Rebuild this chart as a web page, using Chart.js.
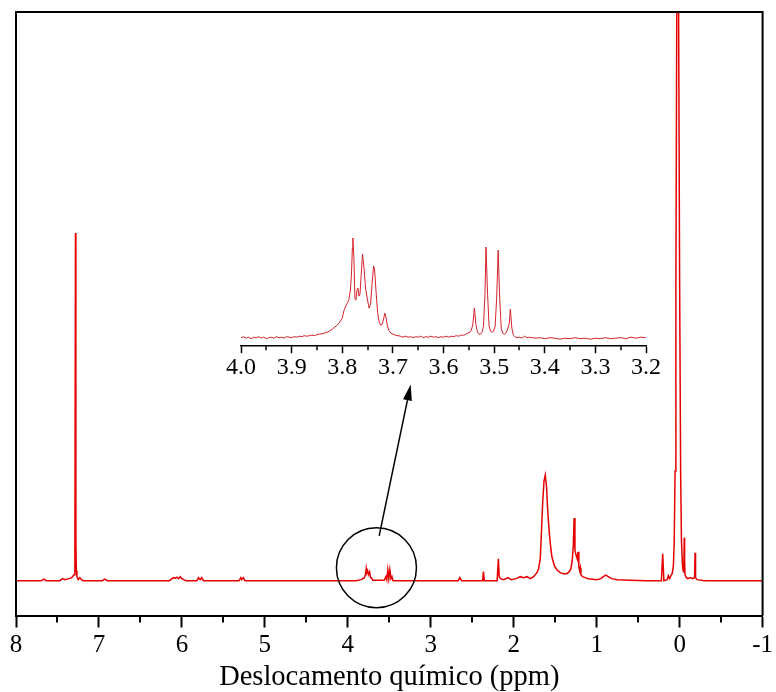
<!DOCTYPE html>
<html>
<head>
<meta charset="utf-8">
<script src="https://cdn.jsdelivr.net/npm/chart.js@4/dist/chart.umd.min.js"></script>
<style>
  html, body { margin: 0; padding: 0; background: #fff; }
  #wrap { position: relative; width: 776px; height: 692px; }
  #main { position: absolute; left: 0; top: 0; }
  #inset { position: absolute; left: 220px; top: 215px; }
</style>
</head>
<body>
<div id="wrap">
  <canvas id="main" width="776" height="692"></canvas>
  <canvas id="inset" width="450" height="167"></canvas>
</div>
<script>
/* ── Full spectrum: chemical shift (ppm) / intensity (a.u.) ───────── */
const shifts = [
  8.00, 7.70, 7.66, 7.64, 7.62, 7.47, 7.44, 7.41, 7.36, 7.33,
  7.30, 7.29, 7.283, 7.278, 7.273, 7.265, 7.25, 7.23, 7.21, 7.19,
  7.15, 6.96, 6.93, 6.90, 6.15, 6.12, 6.10, 6.08, 6.06, 6.04,
  6.02, 6.00, 5.98, 5.95, 5.82, 5.80, 5.78, 5.76, 5.74, 5.31,
  5.29, 5.28, 5.26, 5.24, 3.90, 3.84, 3.80, 3.785, 3.778, 3.772,
  3.762, 3.752, 3.738, 3.725, 3.715, 3.70, 3.56, 3.54, 3.53, 3.518,
  3.506, 3.493, 3.48, 3.468, 3.455, 2.67, 2.65, 2.63, 2.375, 2.365,
  2.355, 2.20, 2.185, 2.175, 2.16, 2.12, 2.07, 2.03, 1.97, 1.92,
  1.88, 1.84, 1.80, 1.76, 1.72, 1.70, 1.68, 1.665, 1.65, 1.635,
  1.62, 1.605, 1.59, 1.575, 1.56, 1.54, 1.51, 1.48, 1.44, 1.40,
  1.36, 1.33, 1.31, 1.295, 1.282, 1.272, 1.262, 1.25, 1.235, 1.225,
  1.215, 1.205, 1.197, 1.19, 1.17, 1.14, 1.10, 1.05, 1.00, 0.95,
  0.92, 0.89, 0.86, 0.82, 0.75, 0.60, 0.40, 0.22, 0.204, 0.19,
  0.15, 0.136, 0.12, 0.10, 0.09, 0.075, 0.065, 0.055, 0.045, 0.035,
  0.022, 0.012, 0.0, -0.012, -0.022, -0.035, -0.045, -0.052, -0.056, -0.06,
  -0.065, -0.08, -0.10, -0.13, -0.16, -0.18, -0.186, -0.192, -0.21, -0.30,
  -1.00
];
const intensity = [
  0, 0, 1.5, 0, 0, 0, 2, 1, 2, 3,
  6, 25, 349, 40, 10, 4, 1, 3, 1, 0,
  0, 0, 1.5, 0, 0, 2, 3, 2.5, 3.5, 2,
  4, 2, 1, 0, 0, 3, 1, 3, 0, 0,
  3, 1, 3, 0, 0, 1, 3, 7, 12, 8,
  10, 6, 9, 3, 3, 0.5, 0.5, 4, 1, 11,
  2, 11, 2, 4, 0, 0, 3, 0, 0, 9,
  0, 0, 22, 4, 2, 1, 3, 1, 2, 4,
  3, 4, 2, 4, 8, 12, 22, 50, 80, 100,
  106, 95, 70, 52, 38, 24, 15, 11, 8, 7,
  7, 9, 12, 20, 35, 63, 30, 26, 22, 29,
  14, 10, 13, 6, 4, 3, 2, 1.5, 1, 2,
  4, 5.5, 4, 2, 1, 0.5, 0, 0, 27, 0,
  1, 5, 2, 6, 7, 15, 40, 110, 300, 560,
  2500, 560, 300, 110, 40, 14, 9, 20, 43, 20,
  6, 3, 2, 3, 2, 3, 28, 3, 1, 0,
  0
];

/* ── Inset: 4.0 – 3.2 ppm expansion ───────────────────────────────── */
const insetShifts = [
  4.000, 3.995, 3.990, 3.985, 3.980, 3.975, 3.970, 3.965, 3.960, 3.955,
  3.950, 3.945, 3.940, 3.935, 3.930, 3.925, 3.920, 3.915, 3.910, 3.905,
  3.900, 3.895, 3.890, 3.885, 3.880, 3.875, 3.870, 3.865, 3.860, 3.855,
  3.850, 3.845, 3.840, 3.835, 3.830, 3.825, 3.820, 3.815, 3.810, 3.805,
  3.800, 3.797, 3.794, 3.790, 3.787, 3.784, 3.782, 3.780, 3.779, 3.777,
  3.775, 3.773, 3.771, 3.769, 3.767, 3.765, 3.763, 3.760, 3.757, 3.754,
  3.750, 3.747, 3.744, 3.741, 3.738, 3.736, 3.733, 3.730, 3.727, 3.724,
  3.721, 3.718, 3.716, 3.714, 3.711, 3.708, 3.704, 3.700, 3.695, 3.690,
  3.685, 3.680, 3.675, 3.670, 3.665, 3.660, 3.655, 3.650, 3.645, 3.640,
  3.635, 3.630, 3.625, 3.620, 3.615, 3.610, 3.605, 3.600, 3.595, 3.590,
  3.585, 3.580, 3.575, 3.570, 3.565, 3.560, 3.556, 3.552, 3.548, 3.545,
  3.542, 3.539, 3.536, 3.533, 3.530, 3.527, 3.524, 3.521, 3.518, 3.516,
  3.513, 3.510, 3.507, 3.504, 3.501, 3.498, 3.495, 3.492, 3.489, 3.486,
  3.483, 3.480, 3.477, 3.474, 3.470, 3.468, 3.465, 3.462, 3.459, 3.455,
  3.450, 3.445, 3.440, 3.435, 3.430, 3.420, 3.410, 3.400, 3.390, 3.380,
  3.370, 3.360, 3.350, 3.340, 3.330, 3.320, 3.310, 3.300, 3.290, 3.280,
  3.270, 3.260, 3.250, 3.240, 3.230, 3.220, 3.210, 3.200
];
const insetIntensity = [
  0.5, 1.5, 0, 1, -0.5, 1, 0.5, 1.5, 0, 1,
  -0.5, 0.5, 1, 0, 1.5, 0.5, 1, 0, 1.5, 1,
  0.5, 1.5, 1, 2, 1.5, 2.5, 2, 2.5, 3, 2.5,
  3.5, 4, 4.5, 5, 6, 7, 9, 11, 13, 16,
  20, 27, 31, 35, 38, 48, 62, 90, 100, 80,
  40, 38, 48, 50, 42, 44, 60, 84, 70, 50,
  38, 30, 34, 55, 72, 68, 45, 25, 16, 13,
  14, 20, 25, 22, 13, 8, 5, 4, 3, 2.5,
  2, 1, 2, 1, 1.5, 0.5, 1.5, 1, 2, 0.5,
  1.5, 1, 2, 1, 1.5, 0.5, 1.5, 1, 2, 1,
  2, 1.5, 2.5, 2, 3, 3, 4, 5, 6, 8,
  14, 30, 14, 6, 4, 4, 6, 12, 45, 91,
  45, 12, 7, 6, 7, 12, 40, 88, 40, 10,
  5, 4, 5, 8, 15, 29, 10, 3, 1.5, 0.5,
  1, 0, 2, 0.5, 1, 0, 0.5, -0.5, 0.5, 0,
  -1, 0, -0.5, 0.5, -0.5, 0, -1, 0, -0.5, 0.5,
  -0.5, 0, 0.5, -0.5, 1, 0, 1, 0.5
];

const SERIF = "'Liberation Serif', 'Times New Roman', serif";

// minor ticks on the bottom axis
const minorTicks = {
  id: 'minorTicks',
  afterDraw(chart, args, opts) {
    const { ctx, chartArea } = chart;
    const sx = chart.scales.x;
    ctx.save();
    ctx.strokeStyle = '#000';
    ctx.lineWidth = opts.width || 2;
    for (let v = sx.min + opts.step; v < sx.max; v += opts.step * 2) {
      const px = Math.round(sx.getPixelForValue(v));
      ctx.beginPath();
      ctx.moveTo(px, chartArea.bottom);
      ctx.lineTo(px, chartArea.bottom + opts.length);
      ctx.stroke();
    }
    ctx.restore();
  }
};

// box frame + circle/arrow annotation
const frame = {
  id: 'frame',
  afterDraw(chart) {
    const { ctx, chartArea: a } = chart;
    ctx.save();
    ctx.strokeStyle = '#000';
    ctx.lineWidth = 2;
    ctx.beginPath();
    ctx.moveTo(a.left, a.bottom);
    ctx.lineTo(a.left, a.top);
    ctx.lineTo(a.right, a.top);
    ctx.lineTo(a.right, a.bottom);
    ctx.stroke();

    const sx = chart.scales.x, sy = chart.scales.y;
    const cx = sx.getPixelForValue(3.655), cy = sy.getPixelForValue(13);
    ctx.lineWidth = 1.5;
    ctx.beginPath();
    ctx.arc(cx, cy, 40, 0, Math.PI * 2);
    ctx.stroke();

    const x0 = sx.getPixelForValue(3.622), y0 = sy.getPixelForValue(45);
    const x1 = sx.getPixelForValue(3.242), y1 = sy.getPixelForValue(197);
    const ang = Math.atan2(y1 - y0, x1 - x0);
    const hl = 16, hw = 4.5;
    const bx = x1 - hl * Math.cos(ang), by = y1 - hl * Math.sin(ang);
    ctx.beginPath();
    ctx.moveTo(x0, y0);
    ctx.lineTo(bx, by);
    ctx.stroke();
    ctx.fillStyle = '#000';
    ctx.beginPath();
    ctx.moveTo(x1, y1);
    ctx.lineTo(bx + hw * Math.sin(ang), by - hw * Math.cos(ang));
    ctx.lineTo(bx - hw * Math.sin(ang), by + hw * Math.cos(ang));
    ctx.closePath();
    ctx.fill();
    ctx.restore();
  }
};

new Chart(document.getElementById('main'), {
  type: 'line',
  data: {
    datasets: [{
      data: shifts.map((s, i) => ({ x: s, y: intensity[i] })),
      borderColor: '#e60000',
      borderWidth: 1.5,
      pointRadius: 0,
      tension: 0,
      fill: false,
    }],
  },
  options: {
    responsive: false,
    animation: false,
    devicePixelRatio: 1,
    layout: { padding: { left: 16, right: 9, top: 12, bottom: 0 } },
    plugins: {
      legend: { display: false },
      tooltip: { enabled: false },
      minorTicks: { step: 0.5, length: 7, width: 2 },
    },
    scales: {
      x: {
        type: 'linear', min: -1, max: 8, reverse: true,
        ticks: {
          stepSize: 1, color: '#000', padding: 3, maxRotation: 0, autoSkip: false,
          font: { family: SERIF, size: 25 },
        },
        grid: { display: true, drawOnChartArea: false, drawTicks: true, tickLength: 12, tickWidth: 2, tickColor: '#000' },
        border: { display: true, color: '#000', width: 2 },
        title: {
          display: true, text: 'Deslocamento químico (ppm)', color: '#000',
          font: { family: SERIF, size: 28.5, lineHeight: 1.0 }, padding: { top: 0, bottom: 0 },
        },
      },
      y: { display: false, min: -35, max: 571 },
    },
  },
  plugins: [minorTicks, frame],
});

new Chart(document.getElementById('inset'), {
  type: 'line',
  data: {
    datasets: [{
      data: insetShifts.map((s, i) => ({ x: s, y: insetIntensity[i] })),
      borderColor: '#d2232a',
      borderWidth: 1,
      pointRadius: 0,
      tension: 0,
      fill: false,
    }],
  },
  options: {
    responsive: false,
    animation: false,
    devicePixelRatio: 1,
    layout: { padding: { left: 21, right: 24, top: 15, bottom: 0 } },
    plugins: {
      legend: { display: false },
      tooltip: { enabled: false },
      minorTicks: { step: 0.05, length: 4, width: 1.5 },
    },
    scales: {
      x: {
        type: 'linear', min: 3.2, max: 4.0, reverse: true,
        ticks: {
          stepSize: 0.1, color: '#000', padding: 0, maxRotation: 0, autoSkip: false,
          font: { family: SERIF, size: 24 },
          callback: v => v.toFixed(1),
        },
        grid: { display: true, drawOnChartArea: false, drawTicks: true, tickLength: 7, tickWidth: 1.5, tickColor: '#000' },
        border: { display: true, color: '#000', width: 1.5 },
      },
      y: { display: false, min: -8, max: 108 },
    },
  },
  plugins: [minorTicks],
});
</script>
</body>
</html>
